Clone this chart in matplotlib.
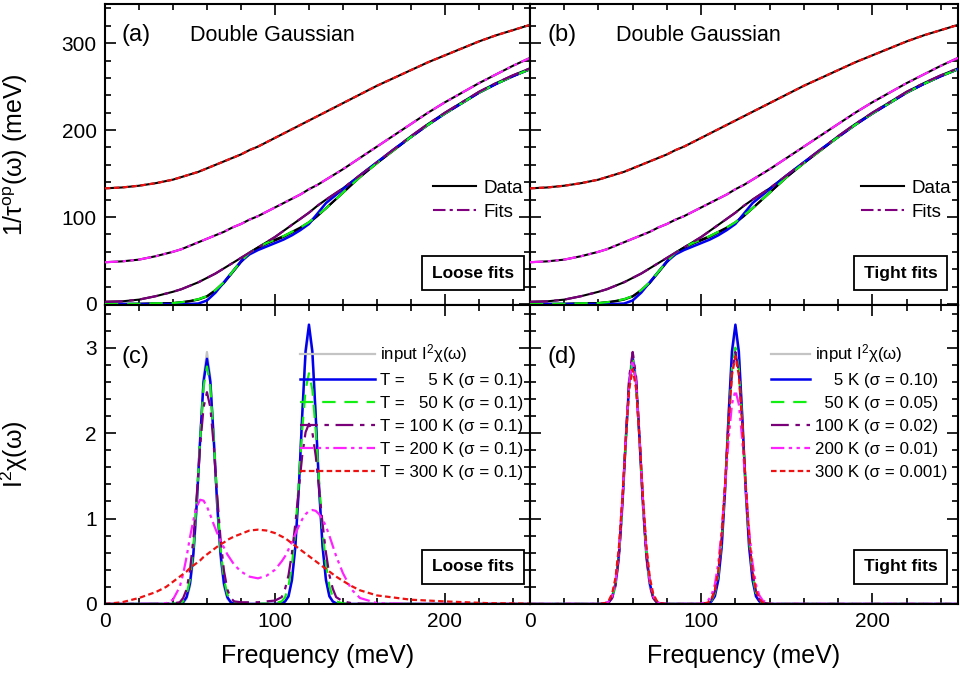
import numpy as np
import matplotlib
matplotlib.use("Agg")
import matplotlib.pyplot as plt
from matplotlib.lines import Line2D
from matplotlib.ticker import MultipleLocator

plt.rcParams['font.family'] = ['Liberation Sans', 'DejaVu Sans']
plt.rcParams['mathtext.fontset'] = 'custom'
plt.rcParams['mathtext.rm'] = 'Liberation Sans'
plt.rcParams['mathtext.it'] = 'Liberation Sans:italic'
plt.rcParams['mathtext.bf'] = 'Liberation Sans:bold'

# ---- optical scattering rate 1/tau^op(omega) (meV) ----
omega_tau = [0, 10, 20, 30, 40, 45, 50, 55, 60, 65, 70, 75, 80, 85, 90, 95, 100,
             105, 110, 115, 120, 125, 130, 140, 150, 160, 170, 180, 190, 200,
             210, 220, 230, 240, 250]
tau_300K = [133, 134, 136, 139, 143, 146, 149, 152, 156, 160, 164, 168, 172, 177,
            181, 186, 191, 196, 201, 206, 211, 216, 221, 231, 241, 251, 260, 269,
            278, 286, 294, 302, 309, 315, 321]
tau_200K = [48, 49, 51, 55, 60, 63, 67, 71, 75, 79, 83, 88, 92, 97, 101, 106, 111,
            116, 121, 126, 132, 137, 143, 155, 168, 181, 194, 207, 220, 232, 243,
            254, 264, 274, 283]
tau_100K = [2.5, 3, 5, 9, 14, 17, 21, 25, 30, 35, 41, 47, 53, 59, 65, 71, 77, 84,
            91, 98, 105, 113, 120, 133, 148, 163, 178, 193, 207, 220, 232, 244,
            254, 263, 271]
tau_50K = [0, 0, 0.2, 0.8, 1, 2, 3.5, 5.5, 9, 16, 25, 37, 49, 59, 65, 70, 74, 78,
           83, 88, 94, 102, 110, 128, 146, 162, 177, 192, 206, 219, 231, 243, 253,
           262, 270]
tau_5K = [0, 0, 0, 0, 0, 0, 0, 0.5, 4, 13, 25, 37, 49, 57, 62, 66, 70, 74, 79, 85,
          92, 104, 116, 132, 148, 163, 178, 192, 206, 219, 231, 243, 253, 262, 270]
tau_5K_data = [0, 0, 0, 0.3, 1, 1.8, 3, 5, 8.5, 15, 24, 36, 48, 58, 64, 69, 73, 77,
               82, 87, 93, 101, 110, 128, 146, 162, 177, 192, 206, 219, 231, 243,
               253, 262, 270]

# ---- bosonic spectra I^2chi(omega) ----
omega_chi = [0, 10, 20, 30, 36, 40,
             44, 46, 48, 50, 52, 54, 56, 58, 60, 62, 64, 66, 68, 70, 72, 74, 76,
             80, 85, 90, 95, 100,
             104, 106, 108, 110, 112, 114, 116, 118, 120, 122, 124, 126, 128, 130,
             132, 134, 136,
             140, 145, 150, 160, 180, 200, 225, 250]
chi_input = [0, 0, 0, 0, 0, 0,
             0.003, 0.015, 0.06, 0.20, 0.52, 1.12, 1.91, 2.65, 2.95, 2.65, 1.91,
             1.12, 0.52, 0.20, 0.06, 0.015, 0.003,
             0, 0, 0, 0, 0,
             0.007, 0.03, 0.11, 0.30, 0.70, 1.37, 2.19, 2.91, 3.2, 2.91, 2.19, 1.37,
             0.70, 0.30, 0.11, 0.03, 0.007,
             0, 0, 0, 0, 0, 0, 0, 0]
chi_loose_5K = [0, 0, 0, 0, 0, 0,
                0.005, 0.02, 0.08, 0.24, 0.59, 1.18, 1.93, 2.60, 2.87, 2.60, 1.93,
                1.18, 0.59, 0.24, 0.08, 0.02, 0.005,
                0, 0, 0, 0, 0,
                0.007, 0.03, 0.09, 0.28, 0.67, 1.34, 2.20, 2.96, 3.27, 2.96, 2.20,
                1.34, 0.67, 0.28, 0.09, 0.03, 0.007,
                0, 0, 0, 0, 0, 0, 0, 0]
chi_loose_50K = [0, 0, 0, 0, 0.001, 0.003,
                 0.01, 0.03, 0.11, 0.29, 0.65, 1.23, 1.93, 2.54, 2.78, 2.54, 1.93,
                 1.23, 0.65, 0.29, 0.11, 0.03, 0.01,
                 0.004, 0.003, 0.003, 0.004, 0.008,
                 0.03, 0.08, 0.21, 0.46, 0.86, 1.42, 2.03, 2.51, 2.70, 2.51, 2.03,
                 1.42, 0.86, 0.46, 0.21, 0.08, 0.03,
                 0.006, 0.002, 0, 0, 0, 0, 0, 0]
chi_loose_100K = [0, 0, 0, 0.002, 0.004, 0.006,
                  0.02, 0.07, 0.17, 0.39, 0.76, 1.27, 1.85, 2.30, 2.48, 2.30, 1.85,
                  1.27, 0.76, 0.39, 0.17, 0.07, 0.03,
                  0.02, 0.02, 0.02, 0.03, 0.04,
                  0.08, 0.18, 0.34, 0.60, 0.94, 1.34, 1.73, 2.01, 2.11, 2.01, 1.73,
                  1.34, 0.94, 0.60, 0.34, 0.18, 0.08,
                  0.03, 0.01, 0.004, 0, 0, 0, 0, 0]
chi_loose_200K = [0, 0, 0, 0, 0.01, 0.05,
                  0.2, 0.35, 0.55, 0.78, 0.98, 1.14, 1.22, 1.21, 1.14, 1.04, 0.93,
                  0.83, 0.74, 0.66, 0.58, 0.52, 0.46,
                  0.38, 0.32, 0.30, 0.33, 0.40,
                  0.50, 0.56, 0.64, 0.73, 0.82, 0.91, 0.99, 1.05, 1.09, 1.10, 1.09,
                  1.05, 0.99, 0.91, 0.80, 0.68, 0.56,
                  0.36, 0.17, 0.07, 0.01, 0, 0, 0, 0]
chi_loose_300K = [0.0, 0.02, 0.07, 0.14, 0.20, 0.26,
                  0.32, 0.35, 0.38, 0.42, 0.45, 0.48, 0.51, 0.55, 0.58, 0.61, 0.64,
                  0.67, 0.70, 0.72, 0.75, 0.77, 0.79,
                  0.82, 0.86, 0.87, 0.86, 0.83,
                  0.79, 0.77, 0.74, 0.71, 0.68, 0.65, 0.62, 0.59, 0.56, 0.53, 0.50,
                  0.47, 0.44, 0.41, 0.38, 0.35, 0.32,
                  0.27, 0.21, 0.16, 0.10, 0.05, 0.03, 0.01, 0.005]
chi_tight_5K = chi_loose_5K
chi_tight_50K = [0, 0, 0, 0, 0, 0,
                 0.006, 0.02, 0.08, 0.24, 0.59, 1.17, 1.92, 2.58, 2.85, 2.58, 1.92,
                 1.17, 0.59, 0.24, 0.08, 0.02, 0.006,
                 0, 0, 0, 0, 0,
                 0.012, 0.04, 0.13, 0.34, 0.75, 1.37, 2.12, 2.75, 3.0, 2.75, 2.12,
                 1.37, 0.75, 0.34, 0.13, 0.04, 0.012,
                 0, 0, 0, 0, 0, 0, 0, 0]
chi_tight_100K = [0, 0, 0, 0, 0, 0,
                  0.003, 0.02, 0.07, 0.22, 0.56, 1.17, 1.95, 2.66, 2.95, 2.66, 1.95,
                  1.17, 0.56, 0.22, 0.07, 0.02, 0.003,
                  0, 0, 0, 0, 0,
                  0.015, 0.05, 0.15, 0.37, 0.78, 1.40, 2.12, 2.71, 2.95, 2.71, 2.12,
                  1.40, 0.78, 0.37, 0.15, 0.05, 0.015,
                  0, 0, 0, 0, 0, 0, 0, 0]
chi_tight_200K = [0, 0, 0, 0, 0, 0,
                  0.006, 0.03, 0.09, 0.27, 0.63, 1.22, 1.95, 2.59, 2.85, 2.59, 1.95,
                  1.22, 0.63, 0.27, 0.09, 0.03, 0.006,
                  0, 0, 0, 0, 0.003,
                  0.04, 0.10, 0.23, 0.48, 0.87, 1.38, 1.92, 2.34, 2.5, 2.34, 1.92,
                  1.38, 0.87, 0.48, 0.23, 0.10, 0.04,
                  0.003, 0, 0, 0, 0, 0, 0, 0]
chi_tight_300K = [0, 0, 0, 0, 0, 0,
                  0.011, 0.04, 0.12, 0.31, 0.68, 1.26, 1.94, 2.52, 2.75, 2.52, 1.94,
                  1.26, 0.68, 0.31, 0.12, 0.04, 0.011,
                  0, 0, 0, 0, 0,
                  0.017, 0.06, 0.16, 0.39, 0.81, 1.41, 2.11, 2.68, 2.9, 2.68, 2.11,
                  1.41, 0.81, 0.39, 0.16, 0.06, 0.017,
                  0, 0, 0, 0, 0, 0, 0, 0]

FS = '\u2007'
loose_labels = ['T = ' + FS * 2 + '5 K (σ = 0.1)', 'T = ' + FS + '50 K (σ = 0.1)',
                'T = 100 K (σ = 0.1)', 'T = 200 K (σ = 0.1)', 'T = 300 K (σ = 0.1)']
tight_labels = [FS * 2 + '5 K (σ = 0.10)', FS + '50 K (σ = 0.05)',
                '100 K (σ = 0.02)', '200 K (σ = 0.01)', '300 K (σ = 0.001)']

# line styles per temperature: 5, 50, 100, 200, 300 K
colors = ['#0000ee', '#11ee11', '#7a007a', '#ff22ff', '#ee1111']
styles = ['-', (0, (6, 4)), (0, (8, 3, 2, 3)), (0, (6, 2, 1.5, 2, 1.5, 2)),
          (0, (2.5, 1.5))]
widths = [1.8, 1.6, 1.6, 1.6, 1.6]
gray = '#c4c4c4'

fig = plt.figure(figsize=(9.62, 6.74), dpi=100)
gs = fig.add_gridspec(2, 2, left=0.1091, right=0.9958, top=0.994, bottom=0.1039,
                      hspace=0, wspace=0, width_ratios=[425, 428],
                      height_ratios=[301, 299])
ax_a = fig.add_subplot(gs[0, 0])
ax_b = fig.add_subplot(gs[0, 1])
ax_c = fig.add_subplot(gs[1, 0])
ax_d = fig.add_subplot(gs[1, 1])

tau_fits = [tau_5K, tau_50K, tau_100K, tau_200K, tau_300K]
tau_data = [tau_5K_data, tau_50K, tau_100K, tau_200K, tau_300K]

box_style = dict(boxstyle='square,pad=0.55', fc='white', ec='black', lw=1.3)

for ax, tag, box in [(ax_a, '(a)', 'Loose fits'), (ax_b, '(b)', 'Tight fits')]:
    for d in tau_data:
        ax.plot(omega_tau, d, color='black', lw=1.5, zorder=2)
    for f, c, s, w in zip(tau_fits, colors, styles, widths):
        ax.plot(omega_tau, f, color=c, ls=s, lw=w, zorder=3)
    ax.set_xlim(0, 250)
    ax.set_ylim(-1.2, 345)
    ax.yaxis.set_major_locator(MultipleLocator(100))
    ax.yaxis.set_minor_locator(MultipleLocator(20))
    ax.text(0.04, 0.897, tag, transform=ax.transAxes, fontsize=17, va='center')
    ax.text(0.20, 0.897, 'Double Gaussian', transform=ax.transAxes,
            fontsize=15.5, va='center')
    ax.text(0.866, 0.105, box, transform=ax.transAxes, fontsize=12.5,
            fontweight='bold', ha='center', va='center', bbox=box_style)
    handles = [Line2D([], [], color='black', lw=1.5),
               Line2D([], [], color='#800080', lw=1.5, ls=(0, (6, 2, 1.5, 2)))]
    ax.legend(handles, ['Data', 'Fits'], loc='center right',
              bbox_to_anchor=(0.985, 0.348), frameon=False, fontsize=13.5,
              handlelength=2.3, handletextpad=0.4, labelspacing=0.37,
              borderpad=0, borderaxespad=0)

chi_sets = [(ax_c, '(c)', 'Loose fits',
             [chi_loose_5K, chi_loose_50K, chi_loose_100K, chi_loose_200K,
              chi_loose_300K], loose_labels, 4.4, 0.984),
            (ax_d, '(d)', 'Tight fits',
             [chi_tight_5K, chi_tight_50K, chi_tight_100K, chi_tight_200K,
              chi_tight_300K], tight_labels, 2.3, 0.975)]
for ax, tag, box, series, labels, hl, xr in chi_sets:
    ax.plot(omega_chi, chi_input, color=gray, lw=1.6,
            label=r'input $\mathregular{I^2\chi(\omega)}$')
    for y, c, s, w, lab in zip(series, colors, styles, widths, labels):
        ax.plot(omega_chi, y, color=c, ls=s, lw=w, label=lab)
    ax.set_xlim(0, 250)
    ax.set_ylim(0, 3.5)
    ax.yaxis.set_major_locator(MultipleLocator(1))
    ax.yaxis.set_minor_locator(MultipleLocator(0.2))
    ax.text(0.04, 0.826, tag, transform=ax.transAxes, fontsize=17, va='center')
    ax.text(0.866, 0.124, box, transform=ax.transAxes, fontsize=12.5,
            fontweight='bold', ha='center', va='center', bbox=box_style)
    ax.legend(loc='center right', bbox_to_anchor=(xr, 0.645), frameon=False,
              fontsize=12.2, handlelength=hl, handletextpad=0.3,
              labelspacing=0.47, borderpad=0, borderaxespad=0)
    ax.set_xlabel('Frequency (meV)', fontsize=18, labelpad=9)

for ax in (ax_a, ax_b, ax_c, ax_d):
    ax.xaxis.set_major_locator(MultipleLocator(100))
    ax.xaxis.set_minor_locator(MultipleLocator(20))
    ax.tick_params(which='both', direction='in', top=True, right=True,
                   width=1.2, labelsize=15)
    ax.tick_params(which='major', length=8, pad=6)
    ax.tick_params(which='minor', length=4)
    for sp in ax.spines.values():
        sp.set_linewidth(1.5)

for ax in (ax_a, ax_b):
    ax.tick_params(labelbottom=False)
for ax in (ax_b, ax_d):
    ax.tick_params(labelleft=False)

ax_a.set_ylabel(r'1/$\mathregular{\tau^{op}(\omega)}$ (meV)', fontsize=18)
ax_c.set_ylabel(r'$\mathregular{I^2\chi(\omega)}$', fontsize=18)
ax_a.yaxis.set_label_coords(-0.176, 0.5)
ax_c.yaxis.set_label_coords(-0.176, 0.5)

fig.savefig('out.png', dpi=100)
